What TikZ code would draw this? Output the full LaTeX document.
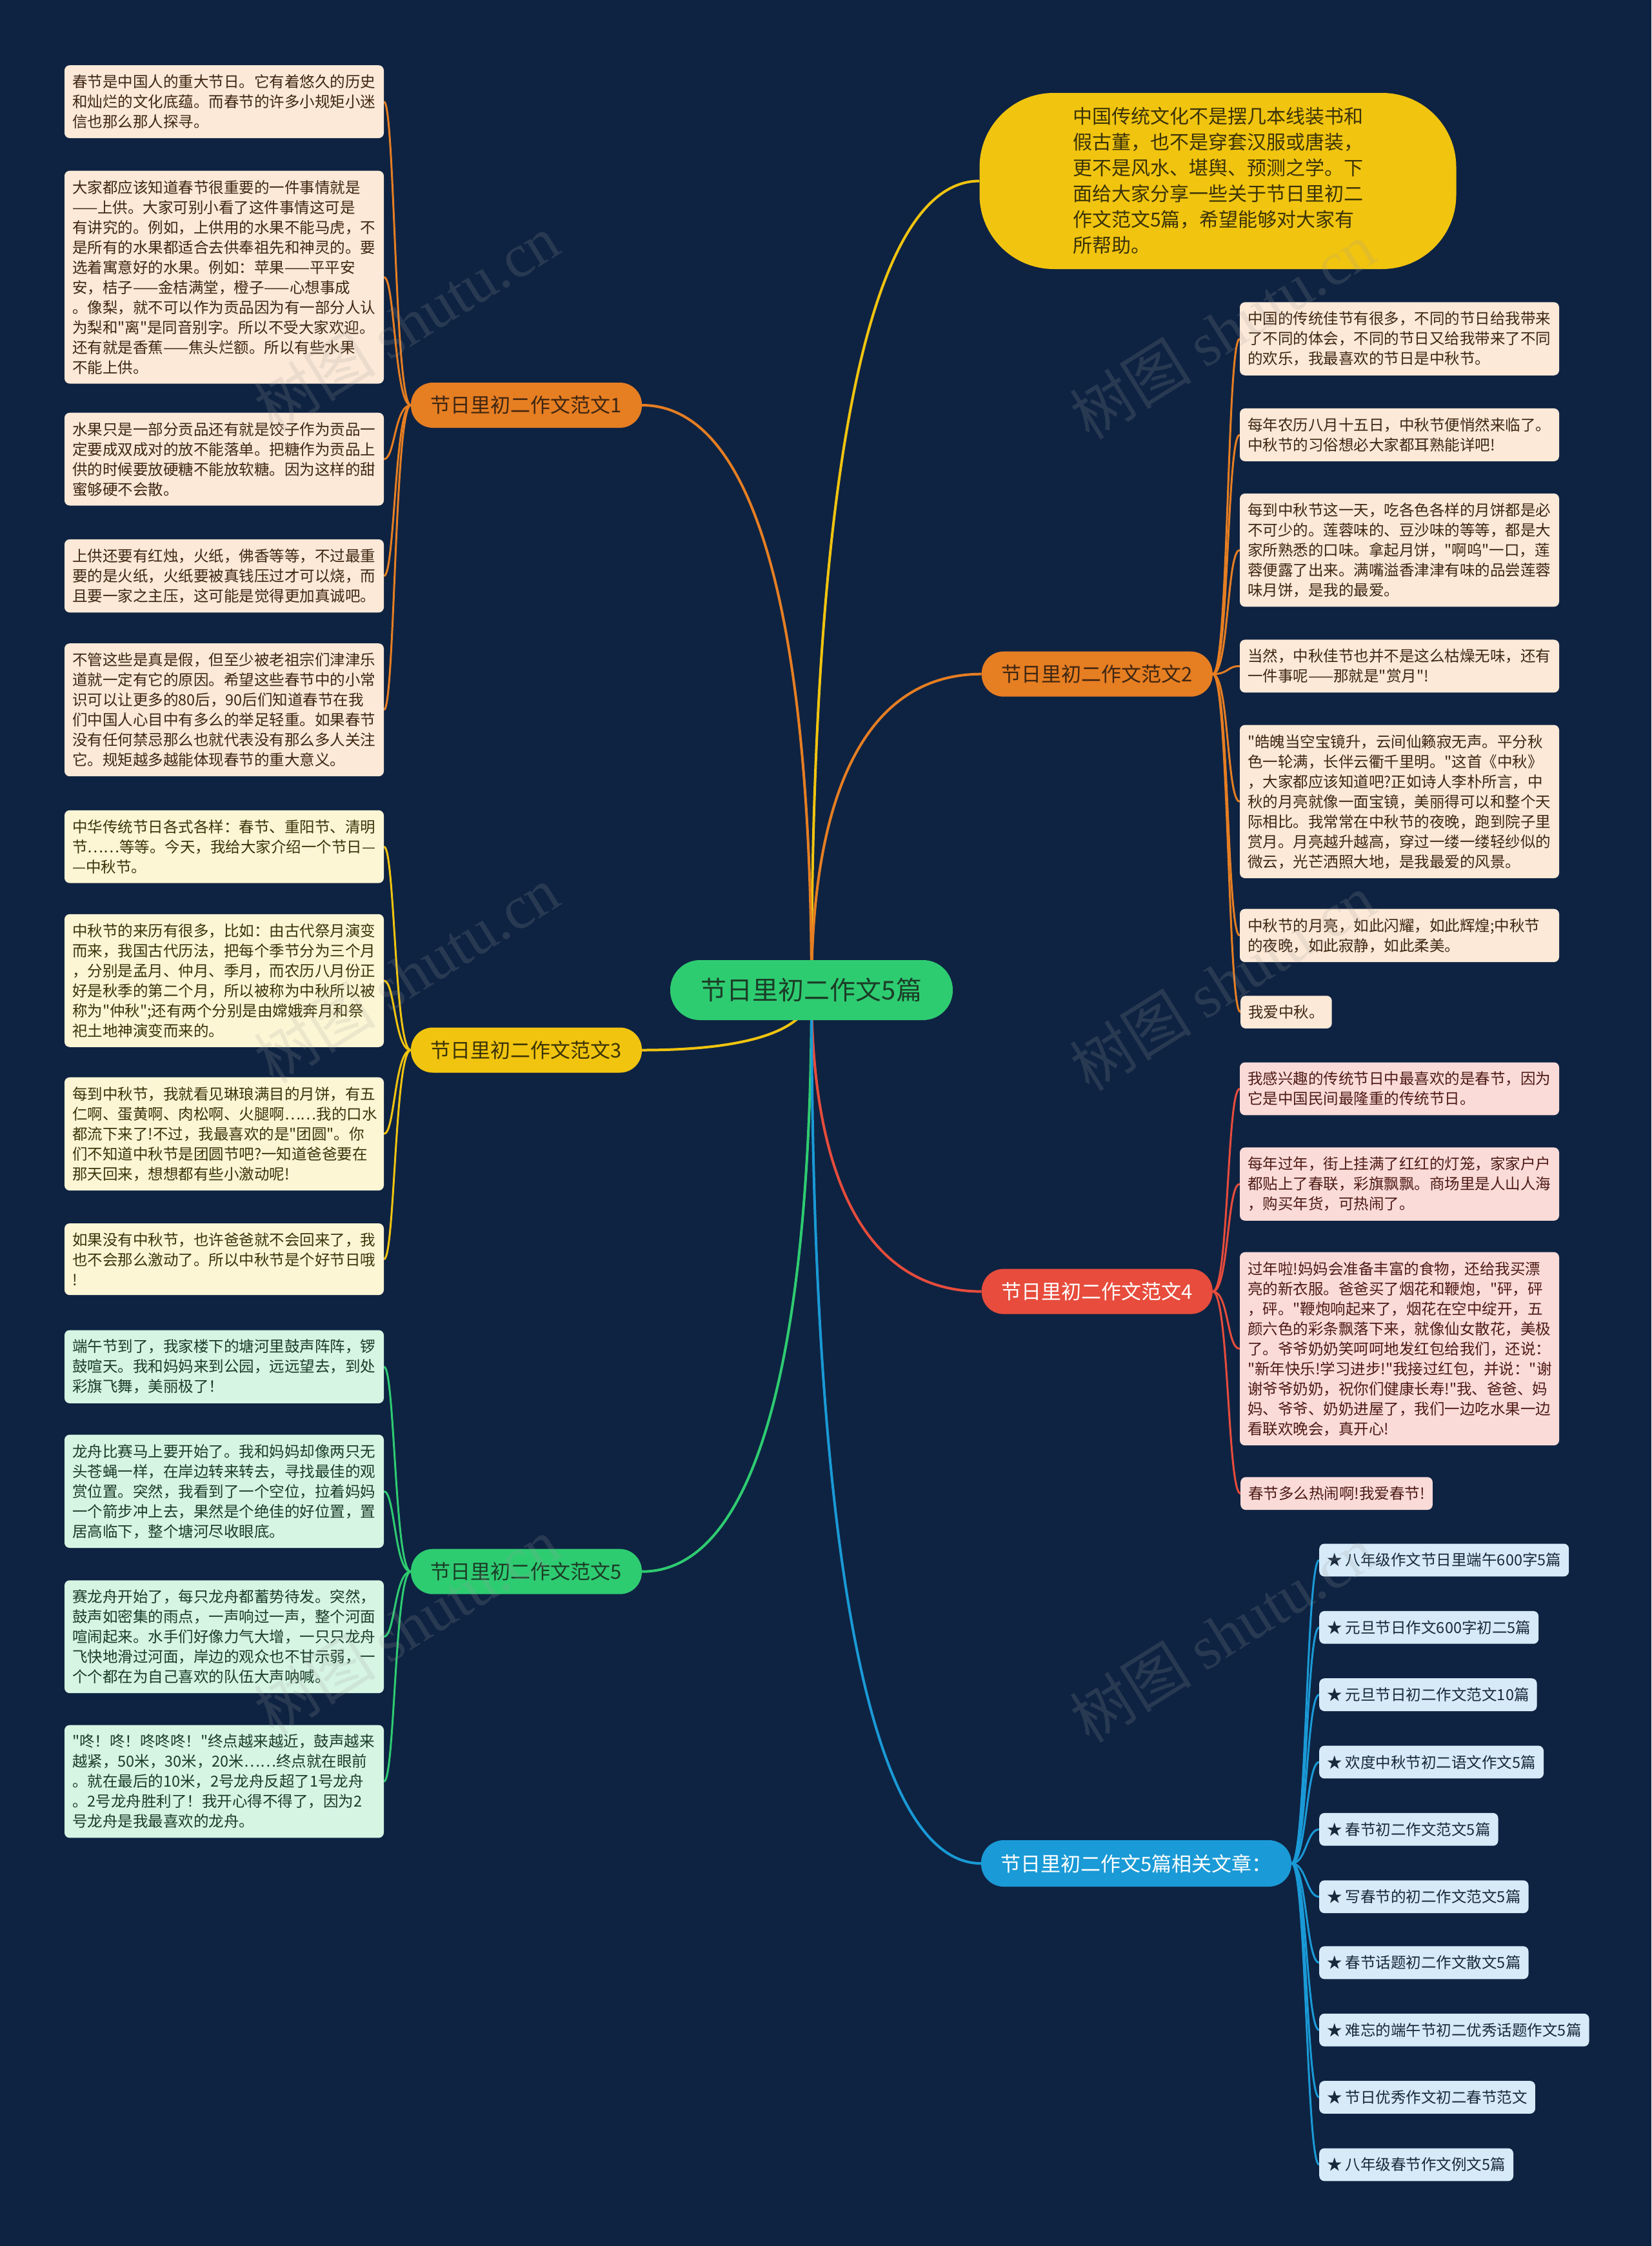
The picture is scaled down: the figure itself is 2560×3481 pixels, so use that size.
\documentclass[tikz,border=0pt]{standalone}
\usepackage{fontspec}
\newfontfamily\cjkfont{Noto Sans CJK SC}
\newfontfamily\wmserif{Liberation Serif}
\usetikzlibrary{calc}
\definecolor{bgc}{HTML}{0E2342}
\definecolor{cOr}{HTML}{E67E22}
\definecolor{cYe}{HTML}{F1C40F}
\definecolor{cGr}{HTML}{2ECC71}
\definecolor{cRe}{HTML}{E74C3C}
\definecolor{cBl}{HTML}{1A9AD6}
\definecolor{fOr}{HTML}{FCE9D7}
\definecolor{fYe}{HTML}{FDF6D5}
\definecolor{fGr}{HTML}{D6F5E3}
\definecolor{fRe}{HTML}{FADBD8}
\definecolor{fBl}{HTML}{D6EAF8}
\definecolor{tOr}{HTML}{3E2612}
\definecolor{tYe}{HTML}{3B3308}
\definecolor{tGr}{HTML}{1B3D27}
\definecolor{tRe}{HTML}{4E1A16}
\definecolor{tBl}{HTML}{17293A}
\newcommand\leaffont{\cjkfont\fontsize{23.5}{31}\selectfont}
\newcommand\brfont{\cjkfont\fontsize{31}{31}\selectfont}
\pgfdeclarelayer{bgl}
\pgfdeclarelayer{lines}
\pgfdeclarelayer{wm}
\pgfsetlayers{bgl,lines,main,wm}
\begin{document}
\begin{tikzpicture}[x=1pt,y=-1pt,
  leafbase/.style={rounded corners=8pt, inner xsep=12pt, inner ysep=14.5pt, align=left, font=\leaffont},
  lf/.style={leafbase, text width=471pt},
  orleaf/.style={fill=fOr, text=tOr},
  yeleaf/.style={fill=fYe, text=tYe},
  grleaf/.style={fill=fGr, text=tGr},
  releaf/.style={fill=fRe, text=tRe},
  blleaf/.style={fill=fBl, text=tBl},
  branch/.style={rounded corners=34pt, minimum width=358pt, minimum height=70pt, inner sep=0pt, font=\brfont},
  mainline/.style={line width=4pt},
  leafline/.style={line width=3pt},
  wmark/.style={font=\cjkfont\fontsize{95}{95}\selectfont, text=gray!75!white, opacity=0.18, rotate=32}
]
\begin{pgfonlayer}{bgl}
\fill[bgc] (0,0) rectangle (2560,3481);
\end{pgfonlayer}
\useasboundingbox (0,0) rectangle (2560,3481);

% center and top
\node[fill=cGr, text=tGr, rounded corners=46pt, minimum width=438pt, minimum height=93pt, inner sep=0pt,
  font=\cjkfont\fontsize{40}{40}\selectfont] (ctr) at (1258,1534.5) {节日里初二作文5篇};
\node[fill=cYe, text=tYe, rounded corners=115pt, minimum width=739pt, minimum height=273pt, inner sep=0pt,
  align=left, font=\cjkfont\fontsize{30}{40}\selectfont] (top) at (1888,280.5)
  {中国传统文化不是摆几本线装书和\\假古董，也不是穿套汉服或唐装，\\更不是风水、堪舆、预测之学。下\\面给大家分享一些关于节日里初二\\作文范文5篇，希望能够对大家有\\所帮助。};

% branches
\node[branch, fill=cOr, text=tOr] (b1) at (816,628) {节日里初二作文范文1};
\node[branch, fill=cYe, text=tYe] (b3) at (816,1627.5) {节日里初二作文范文3};
\node[branch, fill=cGr, text=tGr] (b5) at (816,2435.7) {节日里初二作文范文5};
\node[branch, fill=cOr, text=tOr] (b2) at (1700.8,1044.7) {节日里初二作文范文2};
\node[branch, fill=cRe, text=white] (b4) at (1700.8,2001.6) {节日里初二作文范文4};
\node[branch, fill=cBl, text=white, minimum width=481pt, minimum height=72pt, rounded corners=35pt] (b6) at (1761.5,2888) {节日里初二作文5篇相关文章：};

% leaves of branch 1
\node[lf, orleaf] (l1a) at (347.5,157.6) {春节是中国人的重大节日。它有着悠久的历史\\和灿烂的文化底蕴。而春节的许多小规矩小迷\\信也那么那人探寻。};
\node[lf, orleaf] (l1b) at (347.5,429.6) {大家都应该知道春节很重要的一件事情就是\\——上供。大家可别小看了这件事情这可是\\有讲究的。例如，上供用的水果不能马虎，不\\是所有的水果都适合去供奉祖先和神灵的。要\\选着寓意好的水果。例如：苹果——平平安\\安，桔子——金桔满堂，橙子——心想事成\\。像梨，就不可以作为贡品因为有一部分人认\\为梨和"离"是同音别字。所以不受大家欢迎。\\还有就是香蕉——焦头烂额。所以有些水果\\不能上供。};
\node[lf, orleaf] (l1c) at (347.5,711.6) {水果只是一部分贡品还有就是饺子作为贡品一\\定要成双成对的放不能落单。把糖作为贡品上\\供的时候要放硬糖不能放软糖。因为这样的甜\\蜜够硬不会散。};
\node[lf, orleaf] (l1d) at (347.5,892.6) {上供还要有红烛，火纸，佛香等等，不过最重\\要的是火纸，火纸要被真钱压过才可以烧，而\\且要一家之主压，这可能是觉得更加真诚吧。};
\node[lf, orleaf] (l1e) at (347.5,1100.2) {不管这些是真是假，但至少被老祖宗们津津乐\\道就一定有它的原因。希望这些春节中的小常\\识可以让更多的80后，90后们知道春节在我\\们中国人心目中有多么的举足轻重。如果春节\\没有任何禁忌那么也就代表没有那么多人关注\\它。规矩越多越能体现春节的重大意义。};

% leaves of branch 3
\node[lf, yeleaf] (l3a) at (347.5,1312.2) {中华传统节日各式各样：春节、重阳节、清明\\节……等等。今天，我给大家介绍一个节日—\\—中秋节。};
\node[lf, yeleaf] (l3b) at (347.5,1519.8) {中秋节的来历有很多，比如：由古代祭月演变\\而来，我国古代历法，把每个季节分为三个月\\，分别是孟月、仲月、季月，而农历八月份正\\好是秋季的第二个月，所以被称为中秋所以被\\称为"仲秋";还有两个分别是由嫦娥奔月和祭\\祀土地神演变而来的。};
\node[lf, yeleaf] (l3c) at (347.5,1757.4) {每到中秋节，我就看见琳琅满目的月饼，有五\\仁啊、蛋黄啊、肉松啊、火腿啊……我的口水\\都流下来了!不过，我最喜欢的是"团圆"。你\\们不知道中秋节是团圆节吧?一知道爸爸要在\\那天回来，想想都有些小激动呢!};
\node[lf, yeleaf] (l3d) at (347.5,1951.6) {如果没有中秋节，也许爸爸就不会回来了，我\\也不会那么激动了。所以中秋节是个好节日哦\\!};

% leaves of branch 5
\node[lf, grleaf] (l5a) at (347.5,2118.2) {端午节到了，我家楼下的塘河里鼓声阵阵，锣\\鼓喧天。我和妈妈来到公园，远远望去，到处\\彩旗飞舞，美丽极了！};
\node[lf, grleaf] (l5b) at (347.5,2311.3) {龙舟比赛马上要开始了。我和妈妈却像两只无\\头苍蝇一样，在岸边转来转去，寻找最佳的观\\赏位置。突然，我看到了一个空位，拉着妈妈\\一个箭步冲上去，果然是个绝佳的好位置，置\\居高临下，整个塘河尽收眼底。};
\node[lf, grleaf] (l5c) at (347.5,2536.7) {赛龙舟开始了，每只龙舟都蓄势待发。突然，\\鼓声如密集的雨点，一声响过一声，整个河面\\喧闹起来。水手们好像力气大增，一只只龙舟\\飞快地滑过河面，岸边的观众也不甘示弱，一\\个个都在为自己喜欢的队伍大声呐喊。};
\node[lf, grleaf] (l5d) at (347.5,2761.0) {"咚！咚！咚咚咚！"终点越来越近，鼓声越来\\越紧，50米，30米，20米……终点就在眼前\\。就在最后的10米，2号龙舟反超了1号龙舟\\。2号龙舟胜利了！我开心得不得了，因为2\\号龙舟是我最喜欢的龙舟。};

% leaves of branch 2
\node[lf, orleaf] (r2a) at (2169.5,525.1) {中国的传统佳节有很多，不同的节日给我带来\\了不同的体会，不同的节日又给我带来了不同\\的欢乐，我最喜欢的节日是中秋节。};
\node[lf, orleaf] (r2b) at (2169.5,673.9) {每年农历八月十五日，中秋节便悄然来临了。\\中秋节的习俗想必大家都耳熟能详吧!};
\node[lf, orleaf] (r2c) at (2169.5,852.6) {每到中秋节这一天，吃各色各样的月饼都是必\\不可少的。莲蓉味的、豆沙味的等等，都是大\\家所熟悉的口味。拿起月饼，"啊呜"一口，莲\\蓉便露了出来。满嘴溢香津津有味的品尝莲蓉\\味月饼，是我的最爱。};
\node[lf, orleaf] (r2d) at (2169.5,1032.4) {当然，中秋佳节也并不是这么枯燥无味，还有\\一件事呢——那就是"赏月"!};
\node[lf, orleaf] (r2e) at (2169.5,1242.3) {"皓魄当空宝镜升，云间仙籁寂无声。平分秋\\色一轮满，长伴云衢千里明。"这首《中秋》\\，大家都应该知道吧?正如诗人李朴所言，中\\秋的月亮就像一面宝镜，美丽得可以和整个天\\际相比。我常常在中秋节的夜晚，跑到院子里\\赏月。月亮越升越高，穿过一缕一缕轻纱似的\\微云，光芒洒照大地，是我最爱的风景。};
\node[lf, orleaf] (r2f) at (2169.5,1449.9) {中秋节的月亮，如此闪耀，如此辉煌;中秋节\\的夜晚，如此寂静，如此柔美。};
\node[leafbase, orleaf, anchor=west] (r2g) at (1923,1568.6) {我爱中秋。};

% leaves of branch 4
\node[lf, releaf] (r4a) at (2169.5,1687.4) {我感兴趣的传统节日中最喜欢的是春节，因为\\它是中国民间最隆重的传统节日。};
\node[lf, releaf] (r4b) at (2169.5,1835.1) {每年过年，街上挂满了红红的灯笼，家家户户\\都贴上了春联，彩旗飘飘。商场里是人山人海\\，购买年货，可热闹了。};
\node[lf, releaf] (r4c) at (2169.5,2090.4) {过年啦!妈妈会准备丰富的食物，还给我买漂\\亮的新衣服。爸爸买了烟花和鞭炮，"砰，砰\\，砰。"鞭炮响起来了，烟花在空中绽开，五\\颜六色的彩条飘落下来，就像仙女散花，美极\\了。爷爷奶奶笑呵呵地发红包给我们，还说：\\"新年快乐!学习进步!"我接过红包，并说："谢\\谢爷爷奶奶，祝你们健康长寿!"我、爸爸、妈\\妈、爷爷、奶奶进屋了，我们一边吃水果一边\\看联欢晚会，真开心!};
\node[leafbase, releaf, anchor=west] (r4d) at (1923,2314.7) {春节多么热闹啊!我爱春节!};

% related articles
\node[leafbase, blleaf, anchor=west] (k1) at (2045,2417.9) {★ 八年级作文节日里端午600字5篇};
\node[leafbase, blleaf, anchor=west] (k2) at (2045,2522.3) {★ 元旦节日作文600字初二5篇};
\node[leafbase, blleaf, anchor=west] (k3) at (2045,2626.6) {★ 元旦节日初二作文范文10篇};
\node[leafbase, blleaf, anchor=west] (k4) at (2045,2731.0) {★ 欢度中秋节初二语文作文5篇};
\node[leafbase, blleaf, anchor=west] (k5) at (2045,2835.3) {★ 春节初二作文范文5篇};
\node[leafbase, blleaf, anchor=west] (k6) at (2045,2939.7) {★ 写春节的初二作文范文5篇};
\node[leafbase, blleaf, anchor=west] (k7) at (2045,3041.8) {★ 春节话题初二作文散文5篇};
\node[leafbase, blleaf, anchor=west] (k8) at (2045,3146.2) {★ 难忘的端午节初二优秀话题作文5篇};
\node[leafbase, blleaf, anchor=west] (k9) at (2045,3250.5) {★ 节日优秀作文初二春节范文};
\node[leafbase, blleaf, anchor=west] (k10) at (2045,3354.9) {★ 八年级春节作文例文5篇};

% connectors
\begin{pgfonlayer}{lines}
\draw[mainline, cYe] (ctr.center) .. controls (1258,782) and (1337,280.5) .. (top.west);
\draw[mainline, cOr] (ctr.center) .. controls (1258,990) and (1179,628) .. (b1.east);
\draw[mainline, cOr] (ctr.center) .. controls (1258,1240) and (1337,1044.7) .. (b2.west);
\draw[mainline, cYe] (ctr.center) .. controls (1258,1590) and (1179,1627.5) .. (b3.east);
\draw[mainline, cRe] (ctr.center) .. controls (1258,1815) and (1337,2001.6) .. (b4.west);
\draw[mainline, cGr] (ctr.center) .. controls (1258,2075) and (1179,2435.7) .. (b5.east);
\draw[mainline, cBl] (ctr.center) .. controls (1258,2346) and (1337,2888) .. (b6.west);
\foreach \n in {l1a,l1b,l1c,l1d,l1e}
  \draw[leafline, cOr] (b1.west) .. controls +(-25,0) and +(17,0) .. (\n.east);
\foreach \n in {l3a,l3b,l3c,l3d}
  \draw[leafline, cYe] (b3.west) .. controls +(-25,0) and +(17,0) .. (\n.east);
\foreach \n in {l5a,l5b,l5c,l5d}
  \draw[leafline, cGr] (b5.west) .. controls +(-25,0) and +(17,0) .. (\n.east);
\foreach \n in {r2a,r2b,r2c,r2d,r2e,r2f,r2g}
  \draw[leafline, cOr] (b2.east) .. controls +(25,0) and +(-20,0) .. (\n.west);
\foreach \n in {r4a,r4b,r4c,r4d}
  \draw[leafline, cRe] (b4.east) .. controls +(25,0) and +(-20,0) .. (\n.west);
\foreach \n in {k1,k2,k3,k4,k5,k6,k7,k8,k9,k10}
  \draw[leafline, cBl] (b6.east) .. controls +(23,0) and +(-20,0) .. (\n.west);
\end{pgfonlayer}

% watermarks
\begin{pgfonlayer}{wm}
\foreach \wx/\wy/\wn in {630/500/1, 630/1510/2, 630/2520/3, 1895/512/5, 1895/1522/6, 1895/2532/7}
  \node[wmark] (wm\wn) at (\wx,\wy) {树图 {\wmserif shutu.cn}};
\end{pgfonlayer}
\end{tikzpicture}
\end{document}
